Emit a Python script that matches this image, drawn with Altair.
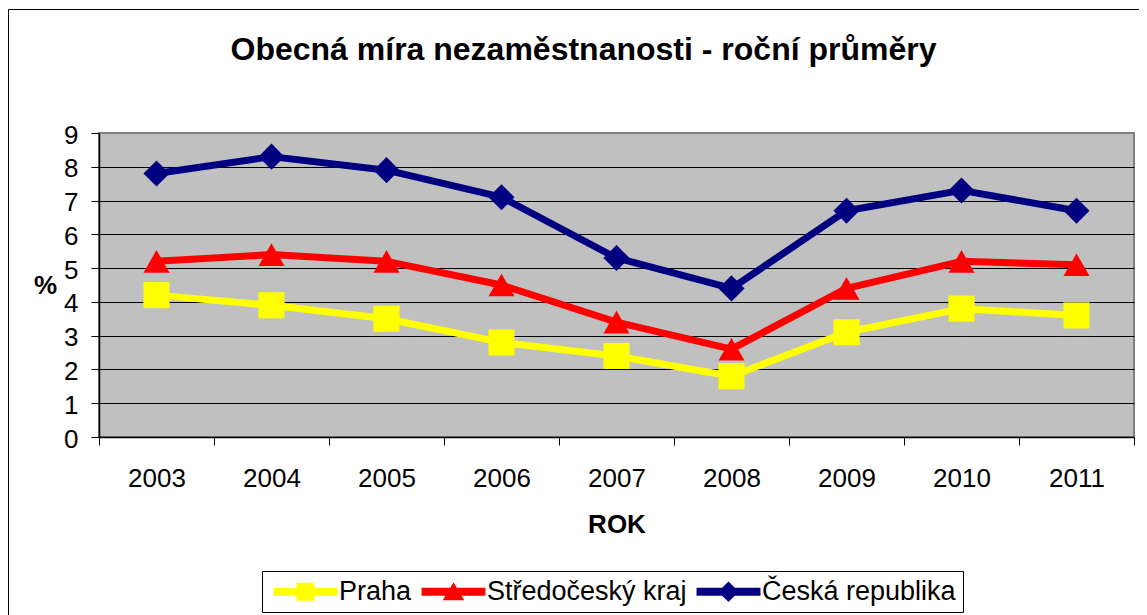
import altair as alt
import pandas as pd

years = ["2003", "2004", "2005", "2006", "2007", "2008", "2009", "2010", "2011"]
series = ["Praha", "Středočeský kraj", "Česká republika"]
praha = [4.2, 3.9, 3.5, 2.8, 2.4, 1.8, 3.1, 3.8, 3.6]
stredocesky = [5.2, 5.4, 5.2, 4.5, 3.4, 2.6, 4.4, 5.2, 5.1]
cr = [7.8, 8.3, 7.9, 7.1, 5.3, 4.4, 6.7, 7.3, 6.7]
colors = ["#FFFF00", "#FF0000", "#000080"]
y_ticks = [0, 1, 2, 3, 4, 5, 6, 7, 8, 9]

rows = []
for name, vals in zip(series, [praha, stredocesky, cr]):
    for yr, v in zip(years, vals):
        rows.append({"rok": yr, "serie": name, "hodnota": v})
df = pd.DataFrame(rows)

FONT = "Liberation Sans"

# legend symbols: thick line segment + marker
leg_paths = [
    "M-3.55,-0.45H3.55V0.45H-3.55Z M-1,-1H1V1H-1Z",
    "M-3.55,-0.45H3.55V0.45H-3.55Z M0,-1.05L1.2,0.95H-1.2Z",
    "M-3.55,-0.45H3.55V0.45H-3.55Z M0,-1.15L1.15,0L0,1.15L-1.15,0Z",
]

x_enc = alt.X(
    "rok:O",
    sort=years,
    scale=alt.Scale(type="band", paddingInner=0, paddingOuter=0),
    axis=alt.Axis(
        title="ROK",
        labelAngle=0,
        tickBand="extent",
        grid=False,
        tickSize=8,
        labelPadding=20,
        titleY=87,
        titleBaseline="middle",
    ),
)
y_enc = alt.Y(
    "hodnota:Q",
    scale=alt.Scale(domain=[0, 9], nice=False, zero=True),
    axis=alt.Axis(
        title="%",
        values=y_ticks,
        titleAngle=0,
        titleX=-54,
        titleY=152,
        titleAlign="center",
        titleBaseline="middle",
        tickSize=8,
        labelPadding=13,
        labelOffset=2,
        grid=True,
        gridColor=alt.condition("datum.value == 9", alt.value("#808080"), alt.value("#000000")),
    ),
)

color_hidden = alt.Color("serie:N", scale=alt.Scale(domain=series, range=colors), legend=None)

frame = alt.Chart(alt.Data(values=[{"a": 1}])).mark_rect(
    fillOpacity=0, stroke="black", strokeWidth=1
).encode(
    x=alt.value(-90.5), x2=alt.value(1200), y=alt.value(-123.5), y2=alt.value(800)
)

base = alt.Chart(df)

lines = base.mark_line(strokeWidth=7, strokeJoin="round", strokeCap="round").encode(
    x=x_enc, y=y_enc, color=color_hidden, detail="serie:N"
)

points = base.mark_point(filled=True, opacity=1, size=680, strokeWidth=0).encode(
    x=x_enc,
    y=y_enc,
    color=color_hidden,
    shape=alt.Shape(
        "serie:N",
        scale=alt.Scale(domain=series, range=["square", "triangle-up", "diamond"]),
        legend=None,
    ),
)

leg = alt.Legend(
    title=None,
    orient="none",
    legendX=163,
    legendY=438,
    direction="horizontal",
    symbolSize=324,
    symbolOffset=23,
    labelOffset=20,
)

legend_layer = base.transform_filter("false").mark_point(filled=True, opacity=1, size=324).encode(
    x=x_enc,
    y=y_enc,
    color=alt.Color("serie:N", scale=alt.Scale(domain=series, range=colors), legend=leg),
    shape=alt.Shape("serie:N", scale=alt.Scale(domain=series, range=leg_paths), legend=leg),
)

chart = (
    alt.layer(frame, lines, points, legend_layer)
    .resolve_scale(color="independent", shape="independent")
    .properties(
        width=1035,
        height=304,
        autosize=alt.AutoSizeParams(type="none"),
        padding={"left": 91, "top": 125, "right": 5, "bottom": 178},
        title=alt.TitleParams(
            text="Obecná míra nezaměstnanosti - roční průměry",
            anchor="middle",
            dx=-33,
            offset=-82.5,
            baseline="alphabetic",
        ),
    )
    .configure(background="white")
    .configure_view(fill="#C0C0C0", stroke="#808080", strokeWidth=2)
    .configure_title(font=FONT, fontSize=32, fontWeight="bold", color="black")
    .configure_axis(
        labelFont=FONT,
        labelFontSize=26,
        labelColor="black",
        titleFont=FONT,
        titleFontSize=26,
        titleFontWeight="bold",
        titleColor="black",
        domainColor="black",
        domainWidth=1.5,
        tickColor="black",
        tickWidth=1,
        gridWidth=1,
    )
    .configure_legend(
        labelFont=FONT,
        labelFontSize=27,
        labelColor="black",
        labelLimit=600,
        strokeColor="black",
        fillColor="white",
        padding=7,
        columnPadding=5,
        symbolStrokeWidth=0,
    )
)

chart.save("out.html", embed_options={"renderer": "svg", "actions": False})
